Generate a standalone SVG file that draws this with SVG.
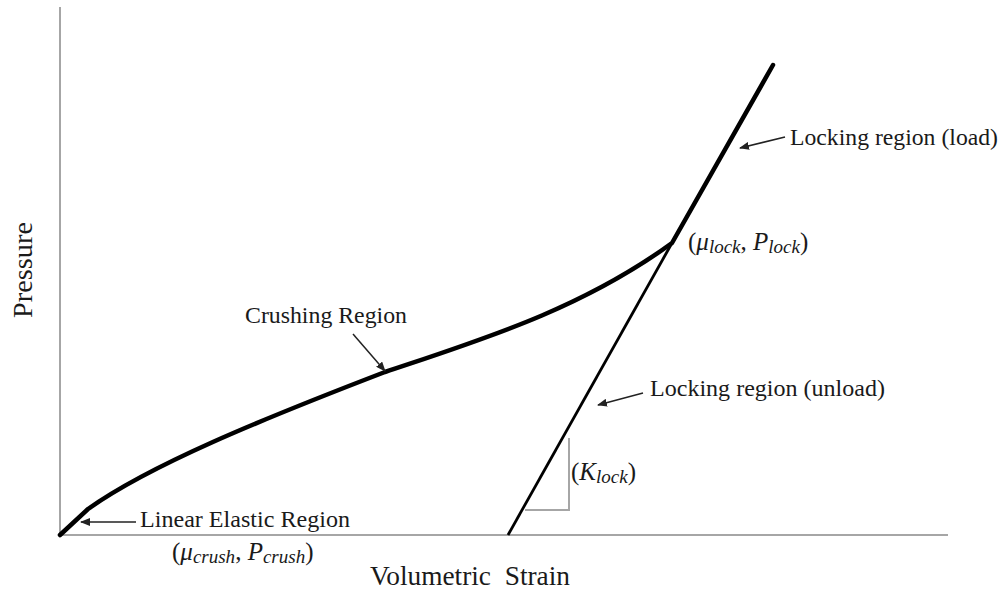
<svg xmlns="http://www.w3.org/2000/svg" width="1003" height="590" viewBox="0 0 1003 590">
<style>
.ax{stroke:#a6a6a6;stroke-width:2;fill:none}
.t{font-family:"Liberation Serif",serif;fill:#1a1a1a}
.lbl{font-size:23px}
.ar{stroke:#222;stroke-width:1.5;fill:none;marker-end:url(#ah)}
</style>
<defs>
<marker id="ah" markerWidth="10" markerHeight="8" refX="9" refY="4" orient="auto" markerUnits="userSpaceOnUse">
<path d="M0,0 L10,4 L0,8 Z" fill="#222"/>
</marker>
</defs>
<g id="axes">
<line class="ax" x1="60" y1="7" x2="60" y2="536"/>
<line class="ax" x1="59" y1="535" x2="948" y2="535"/>
<polyline class="ax" points="525,510 569,510 569,438" stroke-width="1.5"/>
</g>
<g id="curves">
<path d="M60,535 L88,509 C150,465 260,420 385,372 C480,340 580,310 672,243 L773,65" fill="none" stroke="#000" stroke-width="4.5" stroke-linecap="round" stroke-linejoin="round"/>
<line x1="508" y1="535" x2="672" y2="243" stroke="#000" stroke-width="2.8"/>
</g>
<g id="connectors">
<line class="ar" x1="136" y1="522" x2="81" y2="522"/>
<line class="ar" x1="353" y1="334" x2="385" y2="371"/>
<line class="ar" x1="643" y1="393" x2="598" y2="405"/>
<line class="ar" x1="785" y1="137" x2="740" y2="148"/>
</g>
<g id="labels">
<text class="t" font-size="28" transform="translate(32,270) rotate(-90)" text-anchor="middle" textLength="96" lengthAdjust="spacingAndGlyphs">Pressure</text>
<text class="t" font-size="27" x="370" y="585" xml:space="preserve" textLength="200" lengthAdjust="spacingAndGlyphs">Volumetric  Strain</text>
<text class="t lbl" x="140" y="527" textLength="210" lengthAdjust="spacingAndGlyphs">Linear Elastic Region</text>
<text class="t lbl" x="245" y="323" textLength="162" lengthAdjust="spacingAndGlyphs">Crushing Region</text>
<text class="t lbl" x="650" y="396" textLength="235" lengthAdjust="spacingAndGlyphs">Locking region (unload)</text>
<text class="t lbl" x="790" y="145" textLength="208" lengthAdjust="spacingAndGlyphs">Locking region (load)</text>
<text class="t" font-size="25" x="172" y="560">(<tspan font-style="italic">μ</tspan><tspan font-style="italic" font-size="19" dy="3">crush</tspan><tspan dy="-3">, </tspan><tspan font-style="italic">P</tspan><tspan font-style="italic" font-size="19" dy="3">crush</tspan><tspan dy="-3">)</tspan></text>
<text class="t" font-size="25" x="688" y="250">(<tspan font-style="italic">μ</tspan><tspan font-style="italic" font-size="19" dy="3">lock</tspan><tspan dy="-3">, </tspan><tspan font-style="italic">P</tspan><tspan font-style="italic" font-size="19" dy="3">lock</tspan><tspan dy="-3">)</tspan></text>
<text class="t" font-size="25" x="571" y="480">(<tspan font-style="italic">K</tspan><tspan font-style="italic" font-size="19" dy="3">lock</tspan><tspan dy="-3">)</tspan></text>
</g>
</svg>
